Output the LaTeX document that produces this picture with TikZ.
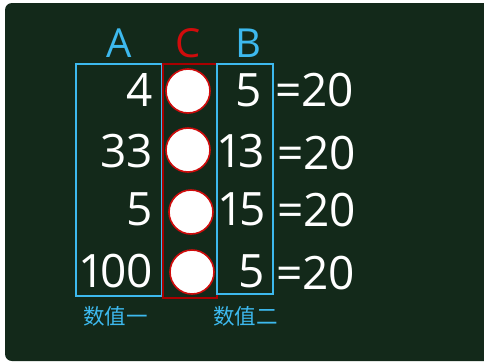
\documentclass[tikz,border=0pt]{standalone}
\usepackage{fontspec}
\setmainfont{Open Sans}
\newfontfamily\cjk{Noto Sans CJK SC}
\definecolor{board}{HTML}{13291A}
\definecolor{chalkblue}{HTML}{3DB9EE}
\definecolor{chalkred}{HTML}{D00C0C}
\definecolor{darkred}{HTML}{A80000}
% a narrow, chalk-like one
\newcommand{\slimone}{\kern-0.17em 1\kern-0.1em}
\begin{document}
\begin{tikzpicture}[x=1pt,y=-1pt,
  colbox/.style={draw, line width=1.5pt, minimum width=#1, inner sep=0pt},
  ball/.style={circle, draw=chalkred, fill=white, line width=1.6pt, minimum size=44pt, inner sep=0pt},
  num/.style={text=white, font=\fontsize{46}{46}\selectfont, anchor=base east, inner sep=0pt},
  res/.style={text=white, font=\fontsize{46}{46}\selectfont, anchor=base west, inner sep=0pt},
  head/.style={font=\fontsize{40}{40}\selectfont, anchor=base, inner sep=0pt},
  caption/.style={text=chalkblue, font=\cjk\fontsize{21.5}{21.5}\selectfont, anchor=base west, inner sep=0pt}]
\useasboundingbox (0,0) rectangle (484,362);
\fill[white] (0,0) rectangle (484,362);
\begin{scope}
\clip (0,0) rectangle (484,362);
\fill[board, rounded corners=7pt] (5,3) rectangle (496,361);
\end{scope}

% the three columns
\node[colbox=86pt, minimum height=232pt, draw=chalkblue] (boxA) at (119,180) {};
\node[colbox=54pt, minimum height=234pt, draw=darkred] (boxC) at (190,181) {};
\node[colbox=56pt, minimum height=230pt, draw=chalkblue] (boxB) at (245,179) {};

% column headings
\node[head, text=chalkblue] (hA) at (119,57) {A};
\node[head, text=chalkred] (hC) at (188,57) {C};
\node[head, text=chalkblue] (hB) at (248,57) {B};

% white balls
\node[ball] (c1) at (188,91) {};
\node[ball] (c2) at (188,150) {};
\node[ball] (c3) at (191,212) {};
\node[ball] (c4) at (192,272) {};

% first factor
\node[num] (a1) at (153,106) {4};
\node[num] (a2) at (153,167) {33};
\node[num] (a3) at (153,225) {5};
\node[num] (a4) at (153,287) {\slimone00};

% second factor
\node[num] (b1) at (262,106) {5};
\node[num] (b2) at (265,167) {\slimone3};
\node[num] (b3) at (266,225) {\slimone5};
\node[num] (b4) at (265,287) {5};

% products
\node[res] (r1) at (275,106) {=20};
\node[res] (r2) at (277,169) {=20};
\node[res] (r3) at (277,226) {=20};
\node[res] (r4) at (276,289) {=20};

% captions
\node[caption] (capA) at (83,324) {数值一};
\node[caption] (capB) at (213,324) {数值二};
\end{tikzpicture}
\end{document}
